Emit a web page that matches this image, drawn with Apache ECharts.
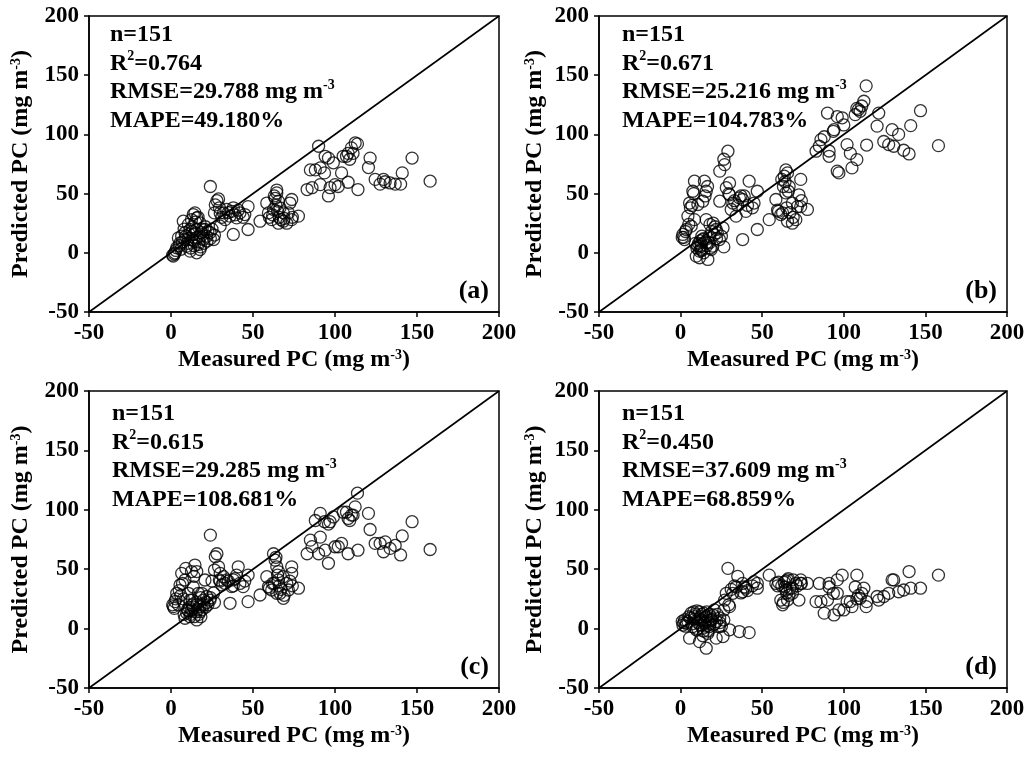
<!DOCTYPE html>
<html>
<head>
<meta charset="utf-8">
<script src="https://cdn.jsdelivr.net/npm/echarts@6/dist/echarts.min.js"></script>
<style>
html, body { margin: 0; padding: 0; background: #fff; }
#main { width: 1028px; height: 761px; }
</style>
</head>
<body>
<div id="main"></div>
<script>
// measured PC of the 151 samples (same for all four panels)
var measured = [
    1.4, 2.4, 3.5, 5.5, 6.5, 8.5, 7.5, 13.6, 15.7, 14.6,
    11.6, 12.6, 16.7, 17.7, 19.7, 21.8, 18.7, 9.6, 11.6, 23.8,
    26, 20.7, 15.7, 17.7, 10.6, 4.5, 13.6, 8.5, 15.7, 2.0,
    3.0, 5.0, 7.0, 9.0, 10.0, 12.0, 13.0, 14.0, 15.0, 16.0,
    17.0, 18.0, 19.0, 20.0, 22.0, 24.0, 25.0, 11.0, 12.5, 14.2,
    16.5, 13.0, 10.5, 18.2, 21.0, 6.0, 8.0, 22.5, 1.0, 26.5,
    29, 30, 26.5, 30, 34, 38, 42, 45, 27, 24,
    32, 28, 36, 40, 47, 47, 38, 31, 33, 35,
    37, 39, 41, 44, 29.5,
    70.6, 73.6, 73.6, 72.5, 68.5, 65.5, 64.5, 63.5, 65.5, 62.5,
    61.4, 58.4, 59.4, 66.5, 68.5, 54.3, 71.6, 64.5, 77.7, 63,
    64, 66, 67, 60, 62, 69, 74, 65,
    83, 85, 86, 88, 90, 91, 91, 93.6, 94, 96,
    96, 97, 99, 100, 102, 104, 105, 107, 108, 108,
    109, 110, 111, 112.3, 113.7, 114,
    120.4, 121.4, 124.5, 127.5, 129.6, 130.6, 133.6, 136.7, 140, 141, 147, 158
];

var predictedA = [
    -2.8, 0, 4.2, 8.4, 14, 17, 26.7, 32.3, 29.5, 33.7,
    19.7, 11.2, 7, 2.8, 11.2, 14, 17, 5.6, 1.4, 17,
    11.2, 19.7, 19.7, 25.3, 24, 12.6, 15.5, 11.2, 0, -1,
    2, 6, 9, 14, 8, 4, 22, 10, 26, 13,
    9, 5, 20, 8, 10, 12, 20, 16, 28, 6,
    30, 18, 12, 14, 22, 3, 20, 18, -2, 15,
    45.5, 22.5, 33.7, 33.7, 36.6, 38, 33.7, 32.3, 40.5, 56,
    33.7, 44, 31, 29.5, 19.7, 39, 15.5, 30, 28, 34,
    35, 32, 36, 30, 38,
    25, 28, 45, 42, 26.7, 25, 50.6, 46, 43.6, 36.6,
    28, 42, 33.7, 38, 33.7, 26.7, 33.7, 53, 31, 48,
    40, 30, 28, 30, 32, 29, 30, 35,
    53.4, 70, 55, 70, 90, 71.7, 57.6, 67.5, 81.5, 80,
    48, 55, 76, 57.6, 56, 67.5, 81.5, 81.5, 59.6, 84,
    79, 88.6, 84, 92.8, 92, 53.4,
    72, 80, 62, 58, 62, 60, 59, 58, 58, 67.5, 80, 60.5
];

var predictedB = [
    15.5, 11.2, 19.7, 42, 22.5, 60.5, 52, 43.6, 52, 60.5,
    -4.2, 5.6, -5.6, 14, 5.6, 19.7, 2.8, -2.8, 1.4, 11.2,
    21, 15.5, 28, 8.4, 40.8, 31, 11.2, 28, 8.4, 13,
    18, 24, 40, 8, 4, 10, 2, 12, 48, 6,
    9, 24, 18, 25, 12, 69, 14, 8, 3, 0,
    56, 14, 6, 4, 22, 38, 50, 17, 13, 5,
    85.8, 49, 79, 59, 31, 45, 60.5, 42, 74.5, 43.6,
    42, 55, 46.4, 35, 19.7, 52, 11.2, 36.6, 44, 40,
    48, 48, 40, 38, 50,
    28, 62, 39, 49, 25, 26.7, 70, 64.7, 67.5, 33.7,
    32.3, 45, 36, 56, 42, 28, 39, 50.6, 36.6, 56,
    60, 52, 34, 35, 62, 30, 44, 38,
    85.8, 90, 95.6, 98, 118, 81.5, 86, 102.6, 104, 69,
    115, 67.5, 114, 108, 91.4, 84, 71.7, 116.7, 122, 78.7,
    121, 119.5, 124, 128, 141, 91,
    107, 118, 94, 91.4, 104, 90, 100, 86.6, 83.5, 107.4, 120, 90.5
];

var predictedC = [
    18.5, 22.7, 29.7, 36.7, 46.5, 40.9, 25, 35, 48, 53.5,
    24, 15.7, 29.7, 14.3, 24, 27, 29.7, 13, 10, 24,
    30, 40.9, 7.3, 18.5, 29.7, 20, 18, 8.7, 20, 17,
    25, 32, 38, 50.7, 16, 12, 20, 44, 14, 22,
    12, 26, 16, 20, 22, 26, 40, 18, 48, 10,
    16, 24, 15, 10, 18, 28, 12, 20, 20, 22,
    52, 46.5, 49.3, 40, 41, 41, 38, 40, 60.5, 78.7,
    43.7, 63, 21.3, 45, 22.7, 45, 36, 36.7, 38, 40,
    35.3, 42, 52, 35.3, 41,
    38, 46.5, 52, 40, 25.5, 48, 52, 57.6, 41, 63,
    32.5, 43.7, 35.3, 29.7, 43.7, 28.3, 32.5, 29.7, 34, 38,
    60, 36, 33, 34, 38, 28, 36, 45,
    63, 74.5, 69, 91, 63, 97, 77, 90, 66, 55,
    88, 90, 94, 68.9, 68.9, 71.7, 98, 98, 92.7, 63,
    91, 95.5, 95.5, 102.5, 114, 66,
    97, 83.4, 71.7, 71.7, 64.7, 73, 67.5, 70, 62, 78, 90, 66.6
];

var predictedD = [
    3, 7.3, 4.5, -8, 13, 10, 1.7, 0.3, -16.5, 4.5,
    -11, 7.3, -4, 1.7, 11.5, -8, 7.3, -1, 14, 1.7,
    -6.7, 15.7, 10, 12, 5, 6, -6, 8, 2, 5,
    2, 10, 4, 12, 15, 3, 12, -2, 6, 14,
    -2, 4, 8, 3, 6, 9, 2, 8, 10, 13,
    6, 3, 0, 10, 4, 9, 14, 12, 6, 7.3,
    50.7, -1, 15.7, 18.5, 35, 38, -3.4, 39.5, 24, 5,
    29.7, 29.7, -2.5, 34, 34, 38, 31, 33, 36, 44,
    30, 35, 32, 36, 20,
    38, 41, 38, 24, 29.7, 24, 32.5, 39, 41, 20,
    24, 38, 36, 28, 34, 45, 36, 40, 38, 22,
    35, 42, 34, 39, 36, 41, 38, 30,
    22.7, 38, 22.7, 13, 24, 35, 38, 29.7, 11.5, 29.7,
    41, 15.7, 45, 15.7, 22.7, 22.7, 18.5, 35, 25, 45,
    28, 25.5, 29.7, 34, 18.5, 22.7,
    27, 24, 27, 29.7, 41, 41, 31, 32.5, 48, 34, 34, 45
];

var sampleCount = 151;
var r2Values = ['0.764', '0.671', '0.615', '0.450'];
var rmseValues = ['29.788', '25.216', '29.285', '37.609'];
var mapeValues = ['49.180', '104.783', '108.681', '68.859'];
var panelLabels = ['(a)', '(b)', '(c)', '(d)'];
var oneToOne = [[-50, -50], [200, 200]];
var axisMin = -50, axisMax = 200, axisStep = 50;

var predictedSets = [predictedA, predictedB, predictedC, predictedD];

var FONT = '"Liberation Serif", "Times New Roman", serif';
var W = 1028, H = 761;
var boxes = [
    { left: 89, top: 16, width: 410, height: 296, yGap: 56, txtX: 21, txtY: 5 },
    { left: 599, top: 16, width: 408, height: 296, yGap: 52, txtX: 23, txtY: 5 },
    { left: 89, top: 391, width: 410, height: 297, yGap: 56, txtX: 23, txtY: 9 },
    { left: 599, top: 391, width: 408, height: 297, yGap: 52, txtX: 23, txtY: 9 }
];

var supStyle = { fontSize: 14, fontWeight: 'bold', fontFamily: FONT, color: '#000', lineHeight: 14, verticalAlign: 'top' };

var grids = [], xAxes = [], yAxes = [], series = [], titles = [];

boxes.forEach(function (b, i) {
    grids.push({
        left: b.left, top: b.top, width: b.width, height: b.height,
        show: true, borderColor: '#000', borderWidth: 1.5,
        backgroundColor: 'transparent',
        containLabel: false, outerBoundsMode: 'none'
    });
    var common = {
        gridIndex: i, type: 'value', min: axisMin, max: axisMax, interval: axisStep,
        nameLocation: 'middle',
        nameTextStyle: {
            fontFamily: FONT, fontWeight: 'bold', fontSize: 24, color: '#000', lineHeight: 24,
            rich: { sup: supStyle }
        },
        axisLine: { show: true, onZero: false, lineStyle: { color: '#000', width: 1.5 } },
        axisTick: { show: true, inside: false, length: 5, lineStyle: { color: '#000', width: 1.5 } },
        axisLabel: { color: '#000', fontFamily: FONT, fontWeight: 'bold', fontSize: 23, margin: 10 },
        splitLine: { show: false }
    };
    xAxes.push(Object.assign({}, common, {
        name: 'Measured PC (mg m{sup|-3})', nameGap: 36
    }));
    yAxes.push(Object.assign({}, common, {
        name: 'Predicted PC (mg m{sup|-3})', nameGap: b.yGap, nameRotate: 90
    }));

    series.push({
        type: 'line', xAxisIndex: i, yAxisIndex: i, data: oneToOne,
        symbol: 'none', silent: true, z: 1,
        lineStyle: { color: '#000', width: 1.6 }
    });
    var pred = predictedSets[i];
    series.push({
        type: 'scatter', xAxisIndex: i, yAxisIndex: i, z: 2,
        data: measured.map(function (m, k) { return [m, pred[k]]; }),
        symbol: 'circle', symbolSize: 12,
        itemStyle: { color: 'rgba(0,0,0,0)', borderColor: '#000', borderWidth: 1.3 },
        emphasis: { disabled: true }
    });

    titles.push({
        left: b.left + b.txtX, top: b.top + b.txtY, padding: 0,
        text: 'n=' + sampleCount + '\nR{sup|2}=' + r2Values[i] +
              '\nRMSE=' + rmseValues[i] + ' mg m{sup|-3}\nMAPE=' + mapeValues[i] + '%',
        textStyle: {
            fontFamily: FONT, fontWeight: 'bold', fontSize: 24, lineHeight: 28.5, color: '#000',
            rich: { sup: supStyle }
        }
    });
    titles.push({
        right: W - (b.left + b.width) + 10, bottom: H - (b.top + b.height) + 8, padding: 0,
        text: panelLabels[i],
        textStyle: { fontFamily: FONT, fontWeight: 'bold', fontSize: 26, color: '#000' }
    });
});

var chart = echarts.init(document.getElementById('main'), null, { renderer: 'canvas' });
chart.setOption({
    backgroundColor: '#fff',
    animation: false,
    title: titles,
    grid: grids,
    xAxis: xAxes,
    yAxis: yAxes,
    series: series
});
</script>
</body>
</html>
